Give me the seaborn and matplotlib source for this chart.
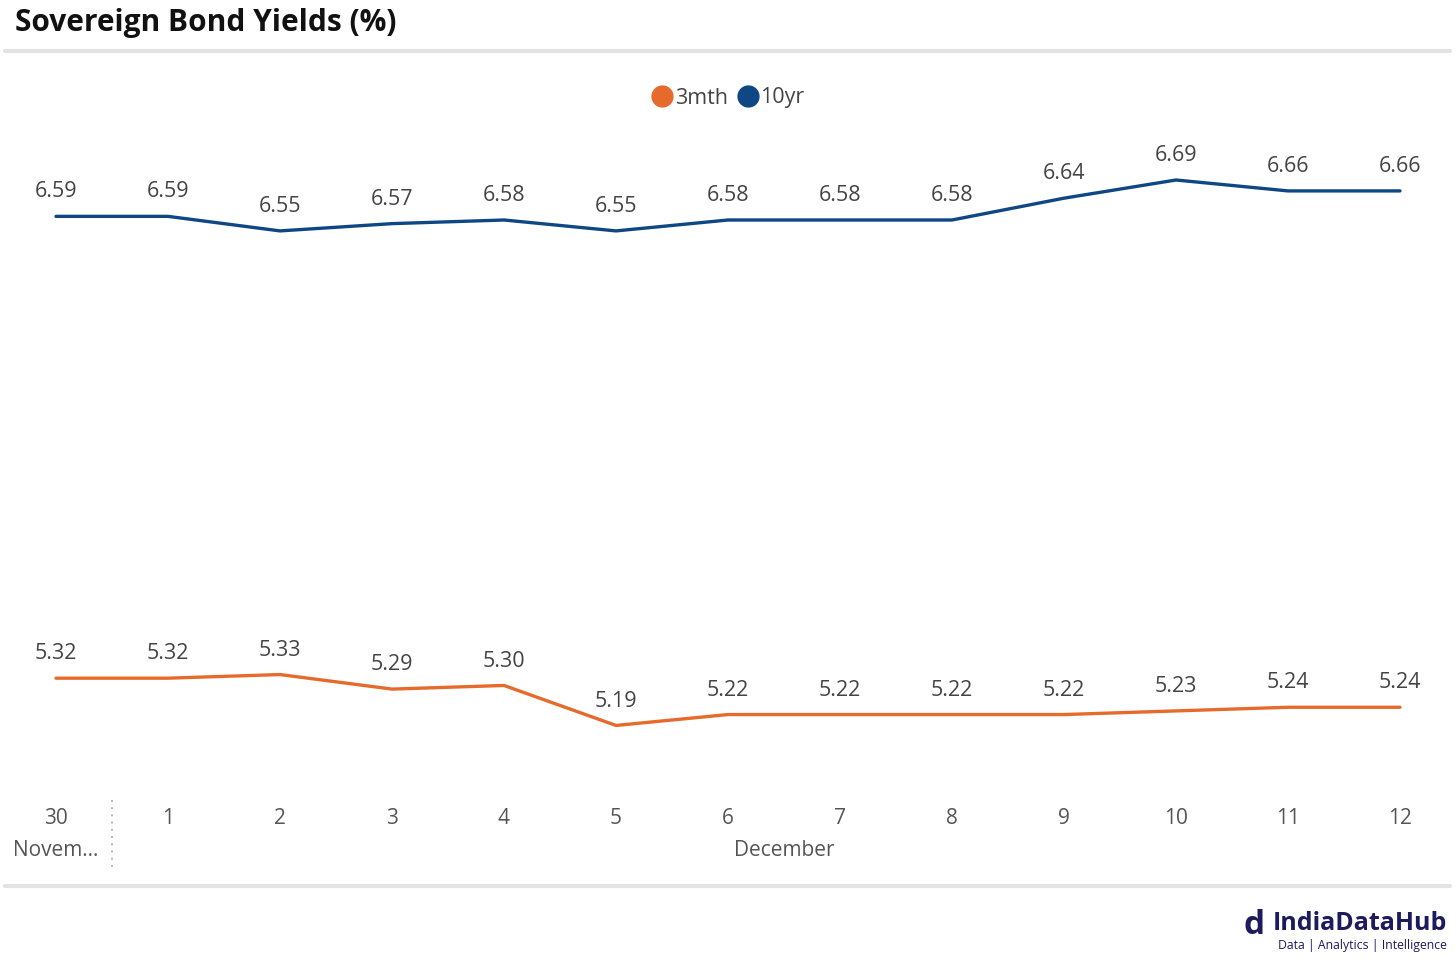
import pandas as pd
import matplotlib.pyplot as plt
import seaborn as sns
from matplotlib.lines import Line2D

# chart values
days = ["30", "1", "2", "3", "4", "5", "6", "7", "8", "9", "10", "11", "12"]
months = ["November", "December"]
month_days = [1, 12]  # number of days in each month group
yield_3mth = [5.32, 5.32, 5.33, 5.29, 5.30, 5.19, 5.22, 5.22, 5.22, 5.22, 5.23, 5.24, 5.24]
yield_10yr = [6.59, 6.59, 6.55, 6.57, 6.58, 6.55, 6.58, 6.58, 6.58, 6.64, 6.69, 6.66, 6.66]
series = ["3mth", "10yr"]
colors = {"3mth": "#E66A2C", "10yr": "#0E4783"}

df = pd.DataFrame({
    "pos": list(range(len(days))) * 2,
    "value": yield_3mth + yield_10yr,
    "series": ["3mth"] * len(days) + ["10yr"] * len(days),
})

sns.set_style("white")
plt.rcParams["font.family"] = ["Open Sans", "DejaVu Sans"]

fig = plt.figure(figsize=(14.56, 9.65), dpi=100)
ax = fig.add_axes([0.0, 1 - 780 / 965, 1.0, 640 / 965])

sns.lineplot(data=df, x="pos", y="value", hue="series", palette=colors,
             linewidth=2.4, legend=False, ax=ax)

# data labels
for s, vals in [("3mth", yield_3mth), ("10yr", yield_10yr)]:
    for i, v in enumerate(vals):
        ax.annotate(f"{v:.2f}", (i, v), xytext=(0, 10), textcoords="offset points",
                    ha="center", va="bottom", fontsize=15.5, color="#444444")

ax.set_xlim(-0.5, len(days) - 0.5)
ax.set_ylim(5.040, 6.800)
ax.set_xlabel("")
ax.set_ylabel("")
ax.set_yticks([])
ax.set_xticks(range(len(days)))
ax.set_xticklabels(days, fontsize=15, color="#555555")
ax.tick_params(axis="x", length=0, pad=20)
for sp in ax.spines.values():
    sp.set_visible(False)

# month labels under day labels
start = 0
for m, n in zip(months, month_days):
    center = start + (n - 1) / 2
    label = m if n > 2 else m[:5] + "..."
    ax.annotate(label, (center, 0), xycoords=("data", "axes fraction"),
                xytext=(0, -71), textcoords="offset pixels",
                ha="center", va="center", fontsize=15, color="#555555")
    start += n
# dotted separator between months
fig.add_artist(Line2D([112 / 1456] * 2, [1 - 800 / 965, 1 - 872 / 965],
                      color="#aaaaaa", linestyle=(0, (1, 3)), linewidth=1.3))

# legend
handles = [Line2D([0], [0], marker="o", color="none", markerfacecolor=colors[s],
                  markeredgecolor=colors[s], markersize=15) for s in series]
fig.legend(handles, series, loc="center", bbox_to_anchor=(727 / 1456, 1 - 98 / 965),
           ncol=2, frameon=False, fontsize=15.5, handletextpad=0.0,
           columnspacing=0.3, handlelength=1.2, labelcolor="#444444")

# title and frame lines
fig.text(15 / 1456, 1 - 23 / 965, "Sovereign Bond Yields (%)", fontsize=21.5,
         fontweight="bold", ha="left", va="center", color="#111111")
fig.add_artist(Line2D([5 / 1456, 1450 / 1456], [1 - 51 / 965] * 2, color="#e3e3e3", linewidth=3))
fig.add_artist(Line2D([5 / 1456, 1450 / 1456], [1 - 886 / 965] * 2, color="#e3e3e3", linewidth=3))

# logo text
fig.text(1447 / 1456, 1 - 924 / 965, "IndiaDataHub", fontsize=18, fontweight="bold",
         ha="right", va="center", color="#1E1A5E")
fig.text(1447 / 1456, 1 - 945 / 965, "Data | Analytics | Intelligence", fontsize=8.8,
         ha="right", va="center", color="#1E1A5E")
fig.text(1254 / 1456, 1 - 925 / 965, "d", fontsize=24, fontweight="bold",
         ha="center", va="center", color="#1E1A5E")

fig.savefig("out.png", dpi=100)
